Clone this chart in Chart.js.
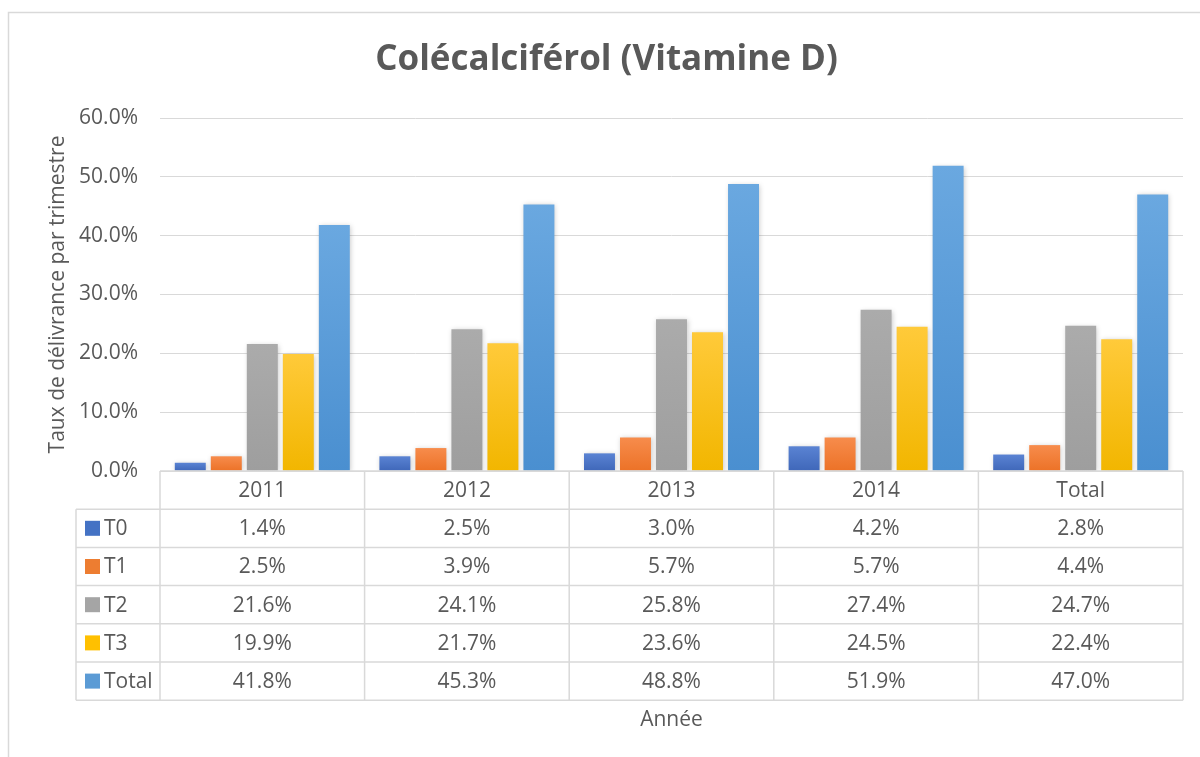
<!DOCTYPE html>
<html>
<head>
<meta charset="utf-8">
<title>Colécalciférol (Vitamine D)</title>
<script src="https://cdn.jsdelivr.net/npm/chart.js@4.4.1/dist/chart.umd.min.js"></script>
<style>
  html, body { margin: 0; padding: 0; background: #ffffff; }
  #wrap { width: 1200px; height: 757px; position: relative; }
</style>
</head>
<body>
<div id="wrap"><canvas id="vitDChart" width="1200" height="757"></canvas></div>
<script>
var years = ["2011", "2012", "2013", "2014", "Total"];
var seriesNames = ["T0", "T1", "T2", "T3", "Total"];
var t0 = [1.4, 2.5, 3.0, 4.2, 2.8];
var t1 = [2.5, 3.9, 5.7, 5.7, 4.4];
var t2 = [21.6, 24.1, 25.8, 27.4, 24.7];
var t3 = [19.9, 21.7, 23.6, 24.5, 22.4];
var total = [41.8, 45.3, 48.8, 51.9, 47.0];
var yTicks = [0, 10, 20, 30, 40, 50, 60];

// top / bottom colours of the excel-like gradient fill
var topColors = ["#5a83d3", "#f78c4c", "#ababab", "#ffca3a", "#6aa8e0"];
var bottomColors = ["#3f67b9", "#ec7227", "#9e9e9e", "#f2b600", "#4a8fd0"];
var swatchColors = ["#4472c4", "#ed7d31", "#a5a5a5", "#ffc000", "#5b9bd5"];

var textColor = "#595959";
var lineColor = "#d9d9d9";
var fontFamily = "'Open Sans', 'DejaVu Sans', sans-serif";

function fmt(v) {
    return v.toFixed(1) + "%";
}

function barFill(idx) {
    return function(context) {
        var chart = context.chart;
        var area = chart.chartArea;
        if (!area || context.type !== "data") return swatchColors[idx];
        var y = chart.scales.y.getPixelForValue(context.raw);
        if (!isFinite(y) || area.bottom - y < 1) return bottomColors[idx];
        var g = chart.ctx.createLinearGradient(0, y, 0, area.bottom);
        g.addColorStop(0, topColors[idx]);
        g.addColorStop(1, bottomColors[idx]);
        return g;
    };
}

var allSeries = [t0, t1, t2, t3, total];
var datasets = seriesNames.map(function(name, i) {
    return {
        label: name,
        data: allSeries[i],
        backgroundColor: barFill(i),
        borderWidth: 0,
        categoryPercentage: 0.88,
        barPercentage: 0.86
    };
});

// soft shadow under the bars
var barShadow = {
    id: "barShadow",
    beforeDatasetsDraw: function(chart) {
        var ctx = chart.ctx;
        ctx.save();
        ctx.shadowColor = "rgba(0,0,0,0.22)";
        ctx.shadowBlur = 5;
        ctx.shadowOffsetX = 1;
        ctx.shadowOffsetY = 1;
    },
    afterDatasetsDraw: function(chart) {
        chart.ctx.restore();
    }
};

// data table under the plot + outer frame + x title
var dataTable = {
    id: "dataTable",
    afterDraw: function(chart) {
        var ctx = chart.ctx;
        var area = chart.chartArea;
        var n = years.length;
        var colW = (area.right - area.left) / n;
        var rowH = 38.2;
        var top = area.bottom;
        var legendLeft = 76;
        var rows = seriesNames.length;
        var bottom = top + rowH * (rows + 1);

        ctx.save();
        ctx.strokeStyle = lineColor;
        ctx.lineWidth = 1.5;

        // horizontal lines
        ctx.beginPath();
        ctx.moveTo(area.left, top);
        ctx.lineTo(area.right, top);
        for (var r = 1; r <= rows + 1; r++) {
            var yy = top + r * rowH;
            ctx.moveTo(legendLeft, yy);
            ctx.lineTo(area.right, yy);
        }
        // vertical lines
        for (var c = 0; c <= n; c++) {
            var xx = area.left + c * colW;
            ctx.moveTo(xx, top);
            ctx.lineTo(xx, bottom);
        }
        ctx.moveTo(legendLeft, top + rowH);
        ctx.lineTo(legendLeft, bottom);
        ctx.stroke();

        ctx.font = "21px " + fontFamily;
        ctx.fillStyle = textColor;
        ctx.textBaseline = "middle";
        ctx.textAlign = "center";
        for (var c2 = 0; c2 < n; c2++) {
            var cx = area.left + (c2 + 0.5) * colW;
            ctx.fillText(years[c2], cx, top + rowH / 2 + 1);
            for (var s = 0; s < rows; s++) {
                ctx.fillText(fmt(allSeries[s][c2]), cx, top + (s + 1.5) * rowH + 1);
            }
        }

        // legend keys
        ctx.textAlign = "left";
        for (var s2 = 0; s2 < rows; s2++) {
            var cy = top + (s2 + 1.5) * rowH;
            ctx.fillStyle = swatchColors[s2];
            ctx.fillRect(85, cy - 7.5, 15, 15);
            ctx.fillStyle = textColor;
            ctx.fillText(seriesNames[s2], 104, cy + 1);
        }

        // x axis title
        ctx.textAlign = "center";
        ctx.font = "21px " + fontFamily;
        ctx.fillText("Année", (area.left + area.right) / 2, 720);

        // chart frame (left and top edges are visible)
        ctx.lineWidth = 1.5;
        ctx.beginPath();
        ctx.moveTo(8.5, 757);
        ctx.lineTo(8.5, 12.5);
        ctx.lineTo(1200, 12.5);
        ctx.stroke();
        ctx.restore();
    }
};

var specs = {
    type: "bar",
    data: {
        labels: years,
        datasets: datasets
    },
    options: {
        responsive: false,
        animation: false,
        layout: {
            padding: { left: 30, right: 17, top: 12, bottom: 286 }
        },
        plugins: {
            legend: { display: false },
            tooltip: { enabled: false },
            title: {
                display: true,
                text: "Colécalciférol (Vitamine D)",
                color: textColor,
                font: { family: fontFamily, size: 35, weight: "bold", lineHeight: 1.2 },
                padding: { top: 27, bottom: 37 }
            }
        },
        scales: {
            x: {
                display: false,
                grid: { display: false }
            },
            y: {
                min: 0,
                max: 60,
                afterBuildTicks: function(scale) {
                    scale.ticks = yTicks.map(function(v) { return { value: v }; });
                },
                afterFit: function(scale) {
                    scale.width = 130;
                },
                border: { display: false },
                grid: { color: lineColor, lineWidth: 1, drawTicks: false },
                ticks: {
                    padding: 22,
                    color: textColor,
                    font: { family: fontFamily, size: 21 },
                    callback: function(v) { return fmt(v); }
                },
                title: {
                    display: true,
                    text: "Taux de délivrance par trimestre",
                    color: textColor,
                    font: { family: fontFamily, size: 21, lineHeight: 1.2 },
                    padding: { top: 15.4, bottom: 0 }
                }
            }
        }
    },
    plugins: [barShadow, dataTable]
};

var vitDChart = new Chart(document.getElementById("vitDChart"), specs);
</script>
</body>
</html>
